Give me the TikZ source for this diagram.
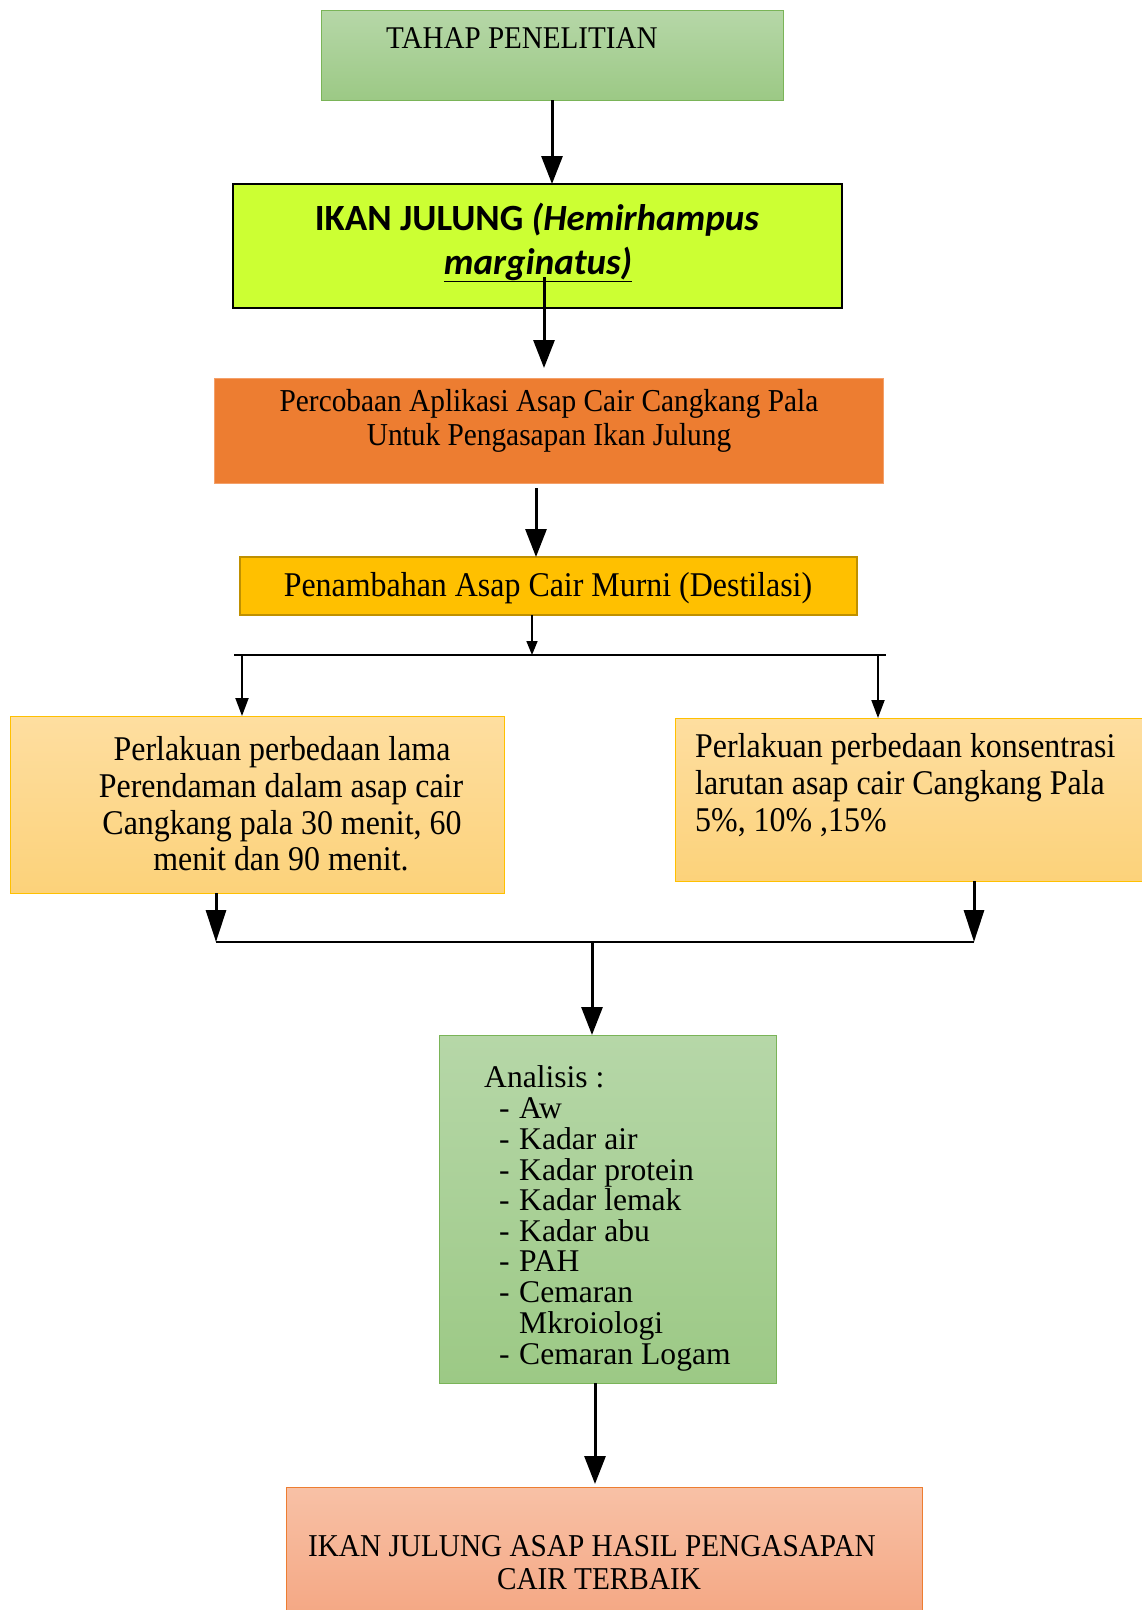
\documentclass[tikz,border=0pt]{standalone}
\usepackage{fontspec}
\setmainfont{Liberation Serif}
\newfontfamily\condserif[FakeStretch=0.92]{Liberation Serif}
\newfontfamily\calibri{Carlito}
\usetikzlibrary{arrows.meta}
\definecolor{gtop}{RGB}{182,215,168}
\definecolor{gbot}{RGB}{156,201,133}
\definecolor{gline}{RGB}{122,180,88}
\definecolor{limec}{RGB}{204,255,51}
\definecolor{orng}{RGB}{237,125,49}
\definecolor{orngline}{RGB}{244,160,105}
\definecolor{goldc}{RGB}{255,192,0}
\definecolor{goldline}{RGB}{191,144,0}
\definecolor{ytop}{RGB}{254,222,160}
\definecolor{ybot}{RGB}{252,210,122}
\definecolor{stop}{RGB}{248,193,166}
\definecolor{sbot}{RGB}{244,166,130}
\begin{document}
\begin{tikzpicture}[x=1pt,y=-1pt,
  box/.style={draw, anchor=north west, inner sep=0pt, outer sep=0pt},
  txt/.style={anchor=base, inner sep=0pt},
  txtl/.style={anchor=base west, inner sep=0pt},
  arr/.style={line width=3pt, -{Triangle[length=28pt,width=21pt]}},
  arrm/.style={line width=3pt, -{Triangle[length=32pt,width=20pt]}},
  arrs/.style={line width=2pt, -{Triangle[length=18pt,width=13pt]}},
  arrxs/.style={line width=1.6pt, -{Triangle[length=14pt,width=11pt]}},
  hline/.style={line width=2.5pt},
  condA/.style={font=\condserif\fontsize{31.6}{34}\selectfont},
  condB/.style={font=\condserif\fontsize{34.7}{37}\selectfont},
  anaf/.style={font=\fontsize{31.6}{31}\selectfont}]
\useasboundingbox (0,0) rectangle (1142,1610);

% boxes
\node[box, top color=gtop, bottom color=gbot, draw=gline, line width=1pt,
      minimum width=462pt, minimum height=90pt] (tahap) at (321,10) {};
\node[box, fill=limec, draw=black, line width=2pt,
      minimum width=609pt, minimum height=124pt] (ikan) at (233,184) {};
\node[box, fill=orng, draw=orngline, line width=0.8pt,
      minimum width=669pt, minimum height=105pt] (perc) at (214,378) {};
\node[box, fill=goldc, draw=goldline, line width=2pt,
      minimum width=617pt, minimum height=58pt] (pen) at (240,557) {};
\node[box, top color=ytop, bottom color=ybot, draw=goldc, line width=1pt,
      minimum width=494pt, minimum height=177pt] (left) at (10,716) {};
\node[box, top color=ytop, bottom color=ybot, draw=goldc, line width=1pt,
      minimum width=470pt, minimum height=163pt] (right) at (675,718) {};
\node[box, top color=gtop, bottom color=gbot, draw=gline, line width=1pt,
      minimum width=337pt, minimum height=348pt] (ana) at (439,1035) {};
\node[box, top color=stop, bottom color=sbot, draw=orng, line width=1pt,
      minimum width=636pt, minimum height=135pt] (fin) at (286,1487) {};

% texts
\node[txtl, condA] (tahapT) at (386,48) {TAHAP PENELITIAN};
\node[txt, font=\calibri\bfseries\fontsize{37}{44}\selectfont] (ikanT1) at (537,230) {IKAN JULUNG \textit{(Hemirhampus}};
\node[txt, font=\calibri\bfseries\fontsize{37}{44}\selectfont] (ikanT2) at (538,274) {\underline{\textit{marginatus)}}};
\node[txt, font=\condserif\fontsize{31.9}{34}\selectfont] (percT1) at (549,411) {Percobaan Aplikasi Asap Cair Cangkang Pala};
\node[txt, font=\condserif\fontsize{31.9}{34}\selectfont] (percT2) at (549,445) {Untuk Pengasapan Ikan Julung};
\node[txt, condB] (penT) at (548,596) {Penambahan Asap Cair Murni (Destilasi)};
\node[txt, condB] (leftT1) at (282,760) {Perlakuan perbedaan lama};
\node[txt, condB] (leftT2) at (281,797) {Perendaman dalam asap cair};
\node[txt, condB] (leftT3) at (282,834) {Cangkang pala 30 menit, 60};
\node[txt, condB] (leftT4) at (281,870) {menit dan 90 menit.};
\node[txtl, condB] (rightT1) at (695,757) {Perlakuan perbedaan konsentrasi};
\node[txtl, condB] (rightT2) at (695,794) {larutan asap cair Cangkang Pala};
\node[txtl, condB] (rightT3) at (695,831) {5\%, 10\% ,15\%};
\node[txtl, anaf] (anaT) at (484,1087) {Analisis :};
\foreach \y/\t [count=\i] in {1118/Aw, 1149/Kadar air, 1180/Kadar protein, 1210/Kadar lemak,
    1241/Kadar abu, 1271/PAH, 1302/Cemaran, 1364/Cemaran Logam} {
  \node[txtl, anaf] (dash\i) at (499,\y) {-};
  \node[txtl, anaf] (item\i) at (519,\y) {\t};
}
\node[txtl, anaf] (item9) at (519,1333) {Mkroiologi};
\node[txt, font=\condserif\fontsize{31.8}{34}\selectfont] (finT1) at (592,1556) {IKAN JULUNG ASAP HASIL PENGASAPAN};
\node[txt, font=\condserif\fontsize{31.8}{34}\selectfont] (finT2) at (599,1589) {CAIR TERBAIK};

% connectors
\draw[arr] (tahap.south) -- (tahap.south |- ikan.north);
\coordinate (c2) at (544,277);
\draw[arr, shorten >=10pt] (c2) -- (c2 |- perc.north);
\coordinate (c3) at (536,488);
\draw[arr] (c3) -- (c3 |- pen.north);
\coordinate (c4) at (532,655);
\draw[arrxs] (c4 |- pen.south) -- (c4);
\coordinate (h1l) at (234,655);
\coordinate (h1r) at (886,655);
\draw[hline] (h1l) -- (h1r);
\coordinate (d1) at (242,655);
\coordinate (d2) at (878,655);
\draw[arrs] (d1) -- (d1 |- left.north);
\draw[arrs] (d2) -- (d2 |- right.north);
\coordinate (m1) at (216,942);
\coordinate (m2) at (974,942);
\draw[arrm] (m1 |- left.south) -- (m1);
\draw[arrm] (m2 |- right.south) -- (m2);
\draw[hline] (m1) -- (m2);
\coordinate (m3) at (592,942);
\draw[arr] (m3) -- (m3 |- ana.north);
\coordinate (m4) at (595,1383);
\draw[arr, shorten >=3pt] (m4 |- ana.south) -- (m4 |- fin.north);
\end{tikzpicture}
\end{document}
